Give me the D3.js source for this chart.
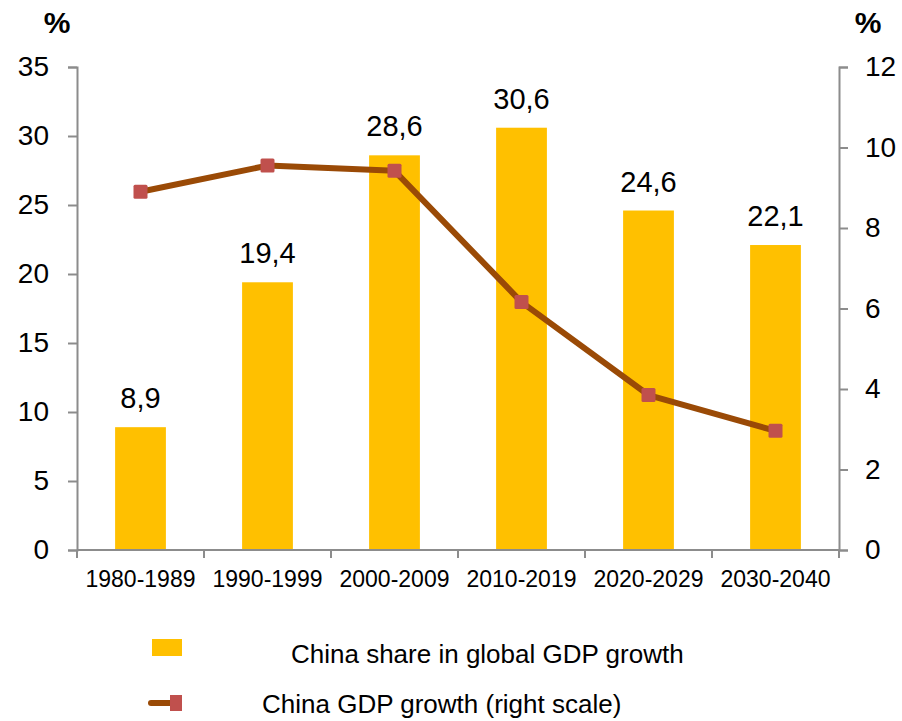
<!DOCTYPE html>
<html>
<head>
<meta charset="utf-8">
<script src="https://cdn.jsdelivr.net/npm/d3@7/dist/d3.min.js"></script>
<style>
  body { margin: 0; background: #fff; }
  text { font-family: "Liberation Sans", Arial, sans-serif; fill: #000; }
</style>
</head>
<body>
<script>
  // data
  const periods = ['1980-1989', '1990-1999', '2000-2009', '2010-2019', '2020-2029', '2030-2040'];
  const shareValues = [8.9, 19.4, 28.6, 30.6, 24.6, 22.1];
  const growthValues = [8.9, 9.55, 9.42, 6.16, 3.85, 2.96];
  const leftTicks = [0, 5, 10, 15, 20, 25, 30, 35];
  const rightTicks = [0, 2, 4, 6, 8, 10, 12];

  const W = 902, H = 721;
  const margin = { top: 67, right: 63, bottom: 171, left: 77 };
  const width = W - margin.left - margin.right,
        height = H - margin.top - margin.bottom;

  const colors = { bar: '#FFC000', line: '#9A4A06', marker: '#C0504D', axis: '#8c8c8c' };

  const svg = d3.select('body').append('svg')
    .attr('width', W).attr('height', H);
  const g = svg.append('g').attr('transform', `translate(${margin.left},${margin.top})`);

  const x = d3.scaleBand().domain(periods).range([0, width]).paddingInner(0).paddingOuter(0);
  const yL = d3.scaleLinear().domain([0, 35]).range([height, 0]);
  const yR = d3.scaleLinear().domain([0, 12]).range([height, 0]);

  const barW = x.bandwidth() * 0.4;

  // bars
  g.selectAll('rect.bar').data(shareValues).enter().append('rect')
    .attr('class', 'bar')
    .attr('x', (d, i) => x(periods[i]) + (x.bandwidth() - barW) / 2)
    .attr('width', barW)
    .attr('y', d => yL(d))
    .attr('height', d => height - yL(d))
    .attr('fill', colors.bar);

  // value labels
  g.selectAll('text.val').data(shareValues).enter().append('text')
    .attr('class', 'val')
    .attr('x', (d, i) => x(periods[i]) + x.bandwidth() / 2)
    .attr('y', d => yL(d) - 19)
    .attr('text-anchor', 'middle')
    .style('font-size', '29px')
    .text(d => d3.format('.1f')(d).replace('.', ','));

  // axes
  const styleAxis = sel => {
    sel.selectAll('.domain').attr('stroke', colors.axis).attr('stroke-width', 2);
    sel.selectAll('.tick line').attr('stroke', colors.axis).attr('stroke-width', 2);
  };

  const leftAx = g.append('g')
    .call(d3.axisLeft(yL).tickValues(leftTicks).tickSize(9).tickSizeOuter(9).tickPadding(19));
  styleAxis(leftAx);
  leftAx.selectAll('text').style('font-size', '28px').attr('fill', '#000').attr('font-family', null);

  const rightAx = g.append('g').attr('transform', `translate(${width},0)`)
    .call(d3.axisRight(yR).tickValues(rightTicks).tickSize(9).tickSizeOuter(9).tickPadding(17));
  styleAxis(rightAx);
  rightAx.selectAll('text').style('font-size', '28px').attr('fill', '#000').attr('font-family', null);

  // bottom axis with ticks at band edges
  const bottomAx = g.append('g').attr('transform', `translate(0,${height})`);
  bottomAx.append('line').attr('x1', 0).attr('x2', width).attr('stroke', colors.axis).attr('stroke-width', 2);
  const edges = periods.map(p => x(p)).concat([width]);
  bottomAx.selectAll('line.tk').data(edges).enter().append('line')
    .attr('class', 'tk')
    .attr('x1', d => d).attr('x2', d => d)
    .attr('y1', 0).attr('y2', 8)
    .attr('stroke', colors.axis).attr('stroke-width', 2);
  bottomAx.selectAll('text').data(periods).enter().append('text')
    .attr('x', d => x(d) + x.bandwidth() / 2)
    .attr('y', 37)
    .attr('text-anchor', 'middle')
    .style('font-size', '23px')
    .text(d => d);

  // line series on right scale
  const line = d3.line()
    .x((d, i) => x(periods[i]) + x.bandwidth() / 2)
    .y(d => yR(d));
  g.append('path').datum(growthValues)
    .attr('d', line)
    .attr('fill', 'none')
    .attr('stroke', colors.line)
    .attr('stroke-width', 6)
    .attr('stroke-linejoin', 'round');
  g.selectAll('rect.mk').data(growthValues).enter().append('rect')
    .attr('class', 'mk')
    .attr('x', (d, i) => x(periods[i]) + x.bandwidth() / 2 - 7)
    .attr('y', d => yR(d) - 7)
    .attr('width', 14).attr('height', 14)
    .attr('rx', 1.5)
    .attr('fill', colors.marker);

  // unit labels
  svg.append('text').attr('x', 57).attr('y', 33).attr('text-anchor', 'middle')
    .style('font-size', '30px').style('font-weight', 'bold').text('%');
  svg.append('text').attr('x', 868).attr('y', 33).attr('text-anchor', 'middle')
    .style('font-size', '30px').style('font-weight', 'bold').text('%');

  // legend
  const legend = svg.append('g');
  legend.append('rect').attr('x', 152).attr('y', 639).attr('width', 30).attr('height', 17).attr('fill', colors.bar);
  legend.append('text').attr('x', 291).attr('y', 663).style('font-size', '26px')
    .text('China share in global GDP growth');
  legend.append('line').attr('x1', 151).attr('x2', 173).attr('y1', 703).attr('y2', 703)
    .attr('stroke', colors.line).attr('stroke-width', 6).attr('stroke-linecap', 'round');
  legend.append('rect').attr('x', 170).attr('y', 695).attr('width', 12).attr('height', 16).attr('fill', colors.marker);
  legend.append('text').attr('x', 262).attr('y', 713).style('font-size', '26px')
    .text('China GDP growth (right scale)');
</script>
</body>
</html>
